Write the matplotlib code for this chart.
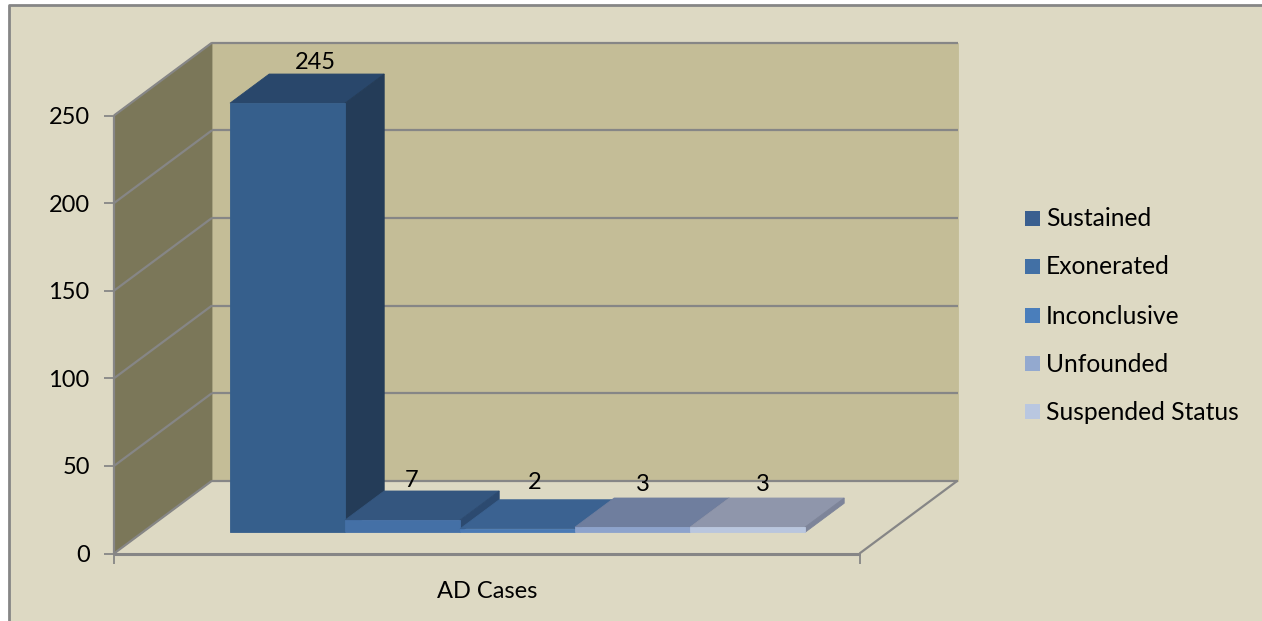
import matplotlib
matplotlib.use("Agg")
import matplotlib.pyplot as plt
from matplotlib.patches import Polygon, Rectangle

categories = ["Sustained", "Exonerated", "Inconclusive", "Unfounded", "Suspended Status"]
values = [245, 7, 2, 3, 3]
group_label = "AD Cases"
y_ticks = [0, 50, 100, 150, 200, 250]

front_colors = ["#365F8C", "#4470A6", "#4A7AB5", "#8DA3CC", "#B9C6DE"]
top_colors = ["#29476B", "#34567F", "#3B6291", "#6F7E9E", "#8F96AB"]
side_colors = ["#243C58", "#2C4A70", "#34567F", "#666F8C", "#7D8499"]
legend_colors = ["#3A5F8F", "#4270A5", "#4A7EBB", "#93A9CF", "#B9C7E0"]

# pixel offsets of the value labels from the top centre of each bar
label_shift = [(-11, 1), (-30, 0), (-22, 7), (-29, 3), (-24, 3)]

bg = "#DDD9C3"
back_wall = "#C4BD97"
side_wall = "#7B7759"
grid = "#868686"
FS = 17
LEGEND_FS = 17.7

W, H = 1262, 621
plt.rcParams["font.family"] = ["Lato", "DejaVu Sans"]
fig = plt.figure(figsize=(W / 100, H / 100), dpi=100, facecolor="white")

# chart area, with a border only on the left and top edges
fig.add_artist(Rectangle((9 / W, 0), (W - 9) / W, 1 - 5 / H, transform=fig.transFigure,
                         facecolor=bg, edgecolor="none", zorder=-2))
fig.add_artist(plt.Line2D([9 / W, 9 / W, 1], [0, 1 - 5 / H, 1 - 5 / H], transform=fig.transFigure,
                          color=grid, lw=2, zorder=-1))

# front plane of the box: x runs 0-1 across the floor, y is the value
ax = fig.add_axes([114 / W, 1 - 553.5 / H, (859.5 - 114) / W, 438 / H])
ax.set_xlim(0, 1)
ax.set_ylim(0, 250)
ax.patch.set_alpha(0)
for s in ax.spines.values():
    s.set_visible(False)

# how far the back of the box is shifted, in data units
DX = 98 / 745.5
DY = 72.8 * 250 / 438


def project(x, y, d):
    # d is depth, 0 at the front of the box and 1 at the back wall
    return (x + DX * d, y + DY * d)


def face(points, color, z):
    ax.add_patch(Polygon([project(*p) for p in points], closed=True, facecolor=color,
                         edgecolor=color, linewidth=0.6, clip_on=False, zorder=z))


def line(p0, p1, z=2, lw=1.6):
    a, b = project(*p0), project(*p1)
    ax.plot([a[0], b[0]], [a[1], b[1]], color=grid, lw=lw, clip_on=False, zorder=z,
            solid_capstyle="butt")


# walls
face([(0, 0, 1), (1, 0, 1), (1, 250, 1), (0, 250, 1)], back_wall, 1)
face([(0, 0, 0), (0, 0, 1), (0, 250, 1), (0, 250, 0)], side_wall, 1)

# gridlines run along the side wall and then across the back wall
for t in y_ticks:
    line((0, t, 0), (0, t, 1))
    line((0, t, 1), (1, t, 1))
line((0, 0, 0), (1, 0, 0), lw=2.2)
line((1, 0, 0), (1, 0, 1))
line((0, 0, 0), (0, 250, 0))

# bars, left to right so that later ones sit over earlier ones
bar_w = 115 / 745.5
x0 = (230 - 114) / 745.5 - DX * 0.29
d0, d1 = 0.29, 0.69
for i, v in enumerate(values):
    xa, xb = x0 + i * bar_w, x0 + (i + 1) * bar_w
    z = 3 + i
    face([(xa, v, d0), (xb, v, d0), (xb, v, d1), (xa, v, d1)], top_colors[i], z)
    face([(xb, 0, d0), (xb, 0, d1), (xb, v, d1), (xb, v, d0)], side_colors[i], z)
    face([(xa, 0, d0), (xb, 0, d0), (xb, v, d0), (xa, v, d0)], front_colors[i], z + 0.5)
    ax.annotate(str(v), project((xa + xb) / 2, v, d1), xytext=label_shift[i],
                textcoords="offset pixels", ha="center", va="bottom", fontsize=FS,
                color="black", zorder=20, annotation_clip=False)

ax.set_yticks(y_ticks)
ax.set_xticks([0, 1])
ax.set_xticklabels(["", ""])
ax.tick_params(axis="y", length=7, width=1.3, color=grid, labelsize=FS, pad=10.5)
ax.tick_params(axis="x", length=7, width=1.3, color=grid)
ax.text(0.5, -0.086, group_label, transform=ax.transAxes, ha="center", va="center", fontsize=FS)

# legend drawn by hand on the figure
legend_y = [218, 266, 315, 363, 411]
for name, c, ly in zip(categories, legend_colors, legend_y):
    fig.add_artist(Rectangle((1025 / W, 1 - (ly + 7.5) / H), 15 / W, 15 / H,
                             transform=fig.transFigure, facecolor=c, edgecolor="none"))
    fig.text(1046 / W, 1 - (ly + 1) / H, name, ha="left", va="center", fontsize=LEGEND_FS)

fig.savefig("out.png", dpi=100, facecolor="white")
